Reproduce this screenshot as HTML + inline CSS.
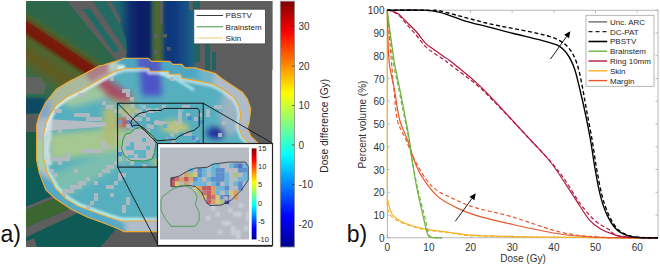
<!DOCTYPE html>
<html><head><meta charset="utf-8"><style>
html,body{margin:0;padding:0;background:#fff;width:660px;height:266px;overflow:hidden}
svg{display:block}
</style></head><body>
<svg width="660" height="266" viewBox="0 0 660 266">
<style>
.tk { font-family: "Liberation Sans", sans-serif; font-size: 10px; fill: #333333; }
.lg { font-family: "Liberation Sans", sans-serif; font-size: 8px; fill: #262626; }
.sm { font-family: "Liberation Sans", sans-serif; font-size: 7.5px; fill: #262626; }
.cb { font-family: "Liberation Sans", sans-serif; font-size: 10.2px; fill: #262626; }
.big { font-family: "Liberation Sans", sans-serif; font-size: 23px; fill: #111; }
</style>
<defs><clipPath id="imgclip"><rect x="26" y="1" width="246.5" height="246"/></clipPath><clipPath id="headclip"><polygon points="100.0,65.5 103.0,65.2 115.2,61.4 124.2,58.3 148.5,58.3 151.5,61.4 169.7,61.4 172.7,64.4 181.8,64.4 184.8,67.9 195.0,67.9 215.3,73.6 222.0,78.7 232.2,85.4 242.3,92.2 247.4,99.0 250.8,109.1 249.1,122.6 247.4,127.7 250.8,136.2 257.6,142.9 262.0,160.0 258.0,185.0 245.0,205.0 225.0,220.0 195.0,231.0 155.5,231.6 124.0,231.6 118.7,229.0 105.5,223.7 87.1,217.1 71.3,209.2 55.5,198.7 45.8,190.0 43.2,183.0 39.2,172.6 36.6,160.0 36.6,125.0 37.4,122.0 39.2,115.5 45.8,102.4 56.3,89.2 69.5,81.3 82.6,74.7"/></clipPath><clipPath id="innerclip"><polygon points="100.0,79.5 115.2,71.2 125.8,68.2 148.5,68.2 150.0,71.2 168.2,71.2 169.7,74.2 180.3,74.2 181.8,78.0 195.0,80.4 211.9,83.7 222.0,88.8 233.9,97.3 239.0,105.7 240.7,114.2 239.0,127.7 242.3,136.2 249.1,142.9 252.0,160.0 248.0,185.0 235.0,200.0 215.0,212.0 190.0,220.0 155.5,221.0 121.3,221.0 108.2,217.1 97.6,213.2 79.2,206.6 66.0,198.7 55.5,188.2 52.4,181.8 47.1,172.6 43.2,156.8 43.2,135.8 46.5,122.0 49.7,115.5 56.3,105.0 66.8,97.1 82.6,89.2"/></clipPath><filter id="bl05" x="-10%" y="-10%" width="120%" height="120%"><feGaussianBlur stdDeviation="0.6"/></filter><filter id="bl1" x="-30%" y="-30%" width="160%" height="160%"><feGaussianBlur stdDeviation="1"/></filter><filter id="bl2" x="-30%" y="-30%" width="160%" height="160%"><feGaussianBlur stdDeviation="2"/></filter><filter id="bl3" x="-30%" y="-30%" width="160%" height="160%"><feGaussianBlur stdDeviation="3"/></filter><filter id="bl4" x="-30%" y="-30%" width="160%" height="160%"><feGaussianBlur stdDeviation="4"/></filter><filter id="bl6" x="-30%" y="-30%" width="160%" height="160%"><feGaussianBlur stdDeviation="6"/></filter><linearGradient id="ulg" gradientUnits="userSpaceOnUse" x1="53.8" y1="-15.1" x2="-1.8" y2="68.1"><stop offset="0" stop-color="#2a6650"/><stop offset="0.36" stop-color="#2e6648"/><stop offset="0.40" stop-color="#456430"/><stop offset="0.445" stop-color="#5e4a1c"/><stop offset="0.46" stop-color="#7a1c0c"/><stop offset="0.54" stop-color="#76180a"/><stop offset="0.565" stop-color="#5e4418"/><stop offset="0.6" stop-color="#4e6630"/><stop offset="0.66" stop-color="#56602a"/><stop offset="0.72" stop-color="#625a1e"/><stop offset="0.78" stop-color="#58602a"/><stop offset="0.86" stop-color="#3e6840"/><stop offset="1" stop-color="#2c6a52"/></linearGradient><linearGradient id="topbeam" x1="113" y1="0" x2="195" y2="0" gradientUnits="userSpaceOnUse"><stop offset="0" stop-color="#226a6a"/><stop offset="0.085" stop-color="#1e6272"/><stop offset="0.21" stop-color="#0e3070"/><stop offset="0.33" stop-color="#0a1e66"/><stop offset="0.45" stop-color="#0c2466"/><stop offset="0.49" stop-color="#3a6444"/><stop offset="0.55" stop-color="#566a30"/><stop offset="0.6" stop-color="#3a6040"/><stop offset="0.63" stop-color="#12387a"/><stop offset="0.76" stop-color="#103a80"/><stop offset="0.94" stop-color="#1a5a88"/><stop offset="1" stop-color="#226a80"/></linearGradient><linearGradient id="jet" x1="0" y1="1" x2="0" y2="0"><stop offset="0" stop-color="#00008f"/><stop offset="0.125" stop-color="#0000ff"/><stop offset="0.375" stop-color="#00ffff"/><stop offset="0.625" stop-color="#ffff00"/><stop offset="0.875" stop-color="#ff0000"/><stop offset="1" stop-color="#800000"/></linearGradient></defs><g clip-path="url(#imgclip)"><rect x="26" y="1" width="246.5" height="246" fill="#5d5d5d"/><polygon points="20.0,-5.0 150.0,-5.0 150.0,62.0 124.0,58.0 100.0,65.0 82.6,74.7 69.5,81.3 56.3,89.2 45.8,102.4 39.2,115.5 37.0,133.0 20.0,133.0" fill="url(#ulg)"/><polygon points="20.0,77.0 40.0,77.0 46.0,85.0 44.0,94.0 20.0,94.0" fill="#60645e"/><polygon points="20.0,98.0 46.0,98.0 41.0,114.0 20.0,114.0" fill="#0e4860" filter="url(#bl1)"/><polygon points="108.0,-5.0 195.0,-5.0 195.0,67.0 128.0,67.0" fill="url(#topbeam)" filter="url(#bl1)"/><rect x="115" y="18" width="4" height="30" fill="#5a5a5a"/><rect x="154" y="34" width="4" height="3.5" fill="#5e5e5e"/><rect x="163" y="34" width="4" height="3.5" fill="#5e5e5e"/><rect x="154" y="50" width="4" height="3.5" fill="#5e5e5e"/><rect x="167" y="47" width="3.5" height="3.5" fill="#5e5e5e"/><rect x="160" y="-2" width="2.5" height="26" fill="#5e5e5e"/><rect x="189" y="-2" width="5" height="12" fill="#5e5e5e"/><rect x="193" y="-2" width="7" height="64" fill="#1f6462"/><rect x="200" y="-2" width="80" height="72" fill="#5e5e5e"/><rect x="205" y="44" width="5" height="26" fill="#1f6462"/><rect x="212" y="52" width="4" height="18" fill="#1f6462"/><polygon points="90.8,-2.0 106.0,-2.0 120.0,22.0 126.0,40.0 127.0,52.0" fill="#246a62"/><polygon points="64.4,-2.0 90.8,-2.0 127.0,52.0 125.0,60.0 117.0,62.0" fill="#5e5e5e"/><polygon points="83.0,9.0 90.0,9.0 119.0,50.0 114.0,53.0" fill="#1e6a64"/><polygon points="105.0,-2.0 109.0,-2.0 121.0,20.0 119.0,24.0" fill="#5e5e5e"/><polygon points="20.0,125.0 37.0,125.0 36.6,160.0 39.2,172.6 43.2,183.0 45.8,190.0 55.5,198.7 71.3,209.2 87.1,217.1 105.5,223.7 118.7,229.0 124.0,231.6 124.0,250.0 20.0,250.0" fill="#0e5a55"/><polygon points="20.0,114.0 40.0,114.0 37.0,132.0 20.0,132.0" fill="#585c5a"/><polygon points="20.0,132.0 37.0,132.0 37.0,168.0 20.0,168.0" fill="#1c5a42"/><polygon points="20.0,209.0 57.0,194.0 59.0,197.0 20.0,212.5" fill="#5e5e5e"/><polygon points="20.0,212.5 59.0,197.0 73.0,207.5 20.0,230.0" fill="#3c6630"/><polygon points="20.0,230.0 73.0,207.5 78.0,213.0 20.0,240.0" fill="#5e5e5e"/><polygon points="20.0,244.0 34.0,238.0 38.0,250.0 20.0,250.0" fill="#5e5e5e"/><polygon points="98.0,250.0 116.0,229.0 124.0,231.6 165.0,231.6 165.0,250.0" fill="#5a5a5a"/><polygon points="100.0,65.5 103.0,65.2 115.2,61.4 124.2,58.3 148.5,58.3 151.5,61.4 169.7,61.4 172.7,64.4 181.8,64.4 184.8,67.9 195.0,67.9 215.3,73.6 222.0,78.7 232.2,85.4 242.3,92.2 247.4,99.0 250.8,109.1 249.1,122.6 247.4,127.7 250.8,136.2 257.6,142.9 262.0,160.0 258.0,185.0 245.0,205.0 225.0,220.0 195.0,231.0 155.5,231.6 124.0,231.6 118.7,229.0 105.5,223.7 87.1,217.1 71.3,209.2 55.5,198.7 45.8,190.0 43.2,183.0 39.2,172.6 36.6,160.0 36.6,125.0 37.4,122.0 39.2,115.5 45.8,102.4 56.3,89.2 69.5,81.3 82.6,74.7" fill="#b0bcc8"/><g clip-path="url(#headclip)"><polygon points="60.0,60.0 124.0,50.0 126.0,72.0 82.0,89.0 50.0,118.0 40.0,118.0" fill="#a8b890" opacity="0.8" filter="url(#bl3)"/><polygon points="80.0,62.0 110.0,58.0 110.0,72.0 90.0,82.0" fill="#b07888" opacity="0.9" filter="url(#bl2)"/><polygon points="108.0,56.0 120.0,56.0 120.0,70.0 108.0,72.0" fill="#c0d8c8" opacity="0.8" filter="url(#bl2)"/><polygon points="30.0,100.0 50.0,100.0 50.0,118.0 30.0,118.0" fill="#7aa0d0" opacity="0.8" filter="url(#bl2)"/><polygon points="30.0,140.0 50.0,140.0 50.0,170.0 30.0,170.0" fill="#a6d0a8" opacity="0.8" filter="url(#bl2)"/><polygon points="30.0,168.0 80.0,198.0 125.0,224.0 125.0,240.0 30.0,240.0" fill="#4aa8c8" opacity="0.9" filter="url(#bl2)"/><polygon points="118.0,50.0 200.0,50.0 200.0,80.0 118.0,80.0" fill="#48a6c2" opacity="0.95" filter="url(#bl2)"/><polygon points="137.0,55.0 160.0,55.0 162.0,80.0 139.0,80.0" fill="#5258c4" opacity="0.9" filter="url(#bl2)"/><rect x="117" y="65" width="8" height="5" fill="#d8ecec" filter="url(#bl1)"/><rect x="137" y="68" width="8" height="4" fill="#c8e4f0" filter="url(#bl1)"/><polygon points="195.0,60.0 215.0,70.0 212.0,90.0 195.0,85.0" fill="#58b0c8" opacity="0.7" filter="url(#bl2)"/></g><polygon points="100.0,79.5 115.2,71.2 125.8,68.2 148.5,68.2 150.0,71.2 168.2,71.2 169.7,74.2 180.3,74.2 181.8,78.0 195.0,80.4 211.9,83.7 222.0,88.8 233.9,97.3 239.0,105.7 240.7,114.2 239.0,127.7 242.3,136.2 249.1,142.9 252.0,160.0 248.0,185.0 235.0,200.0 215.0,212.0 190.0,220.0 155.5,221.0 121.3,221.0 108.2,217.1 97.6,213.2 79.2,206.6 66.0,198.7 55.5,188.2 52.4,181.8 47.1,172.6 43.2,156.8 43.2,135.8 46.5,122.0 49.7,115.5 56.3,105.0 66.8,97.1 82.6,89.2" fill="#56afbf"/><g clip-path="url(#innerclip)"><g filter="url(#bl3)"><polygon points="48.0,134.0 110.0,128.0 150.0,133.0 120.0,150.0 50.0,162.0" fill="#a6c890"/><polygon points="58.0,98.0 100.0,82.0 118.0,95.0 70.0,108.0" fill="#9ec8a0"/><polygon points="50.0,175.0 110.0,150.0 150.0,150.0 60.0,200.0" fill="#8cc4a8" opacity="0.7"/><polygon points="96.0,84.0 108.0,82.0 136.0,98.0 128.0,106.0 112.0,101.0" fill="#d8b060" opacity="0.7"/><polygon points="90.0,78.0 104.0,76.0 134.0,97.0 126.0,103.0 108.0,97.0" fill="#a84e64"/><polygon points="139.0,66.0 160.0,66.0 162.0,96.0 142.0,96.0" fill="#4e52c8"/><ellipse cx="216" cy="133" rx="10" ry="6" fill="#1a2c98"/><ellipse cx="125" cy="123" rx="7" ry="4" fill="#d06050"/><ellipse cx="172" cy="126" rx="12" ry="6" fill="#b0c480"/><ellipse cx="110" cy="125" rx="8" ry="22" fill="#b0bc78"/><ellipse cx="230" cy="112" rx="10" ry="24" fill="#9cb4c4"/></g><polyline points="160.0,73.0 178.0,80.0 194.0,90.0" fill="none" stroke="#c0f0f0" stroke-width="3" opacity="0.8" filter="url(#bl1)"/><polygon points="46.0,119.0 106.0,122.5 106.0,126.5 46.0,131.0" fill="#b6bcc4"/><polyline points="57.0,102.0 51.0,110.0 49.5,120.0 49.0,136.0 47.0,150.0 50.0,165.0" fill="none" stroke="#d4e2e4" stroke-width="5" opacity="0.85" filter="url(#bl1)"/><polygon points="100.0,79.5 115.2,71.2 125.8,68.2 148.5,68.2 150.0,71.2 168.2,71.2 169.7,74.2 180.3,74.2 181.8,78.0 195.0,80.4 211.9,83.7 222.0,88.8 233.9,97.3 239.0,105.7 240.7,114.2 239.0,127.7 242.3,136.2 249.1,142.9 252.0,160.0 248.0,185.0 235.0,200.0 215.0,212.0 190.0,220.0 155.5,221.0 121.3,221.0 108.2,217.1 97.6,213.2 79.2,206.6 66.0,198.7 55.5,188.2 52.4,181.8 47.1,172.6 43.2,156.8 43.2,135.8 46.5,122.0 49.7,115.5 56.3,105.0 66.8,97.1 82.6,89.2" fill="none" stroke="#d8eaea" stroke-width="7" opacity="0.7" filter="url(#bl1)"/><polyline points="47.1,172.6 52.4,181.8 55.5,188.2 66.0,198.7 79.2,206.6 97.6,213.2 108.2,217.1 121.3,221.0 140.0,221.0" fill="none" stroke="#a8ecec" stroke-width="5" opacity="0.9" filter="url(#bl1)"/><polyline points="43.2,135.8 46.5,122.0 49.7,115.5 56.3,105.0 66.8,97.1 82.6,89.2 100.0,79.5 115.2,71.2" fill="none" stroke="#dcecea" stroke-width="5" opacity="0.8" filter="url(#bl1)"/><g fill="#b4bac2" opacity="0.92"><rect x="122.0" y="173.0" width="4.0" height="4.0"/><rect x="118.0" y="173.0" width="4.0" height="4.0"/><rect x="118.0" y="177.0" width="4.0" height="4.0"/><rect x="114.0" y="181.0" width="4.0" height="4.0"/><rect x="110.0" y="185.0" width="4.0" height="4.0"/><rect x="106.0" y="185.0" width="4.0" height="4.0"/><rect x="94.0" y="197.0" width="4.0" height="4.0"/><rect x="90.0" y="201.0" width="4.0" height="4.0"/><rect x="86.0" y="205.0" width="4.0" height="4.0"/><rect x="114.0" y="161.0" width="4.0" height="4.0"/><rect x="110.0" y="165.0" width="4.0" height="4.0"/><rect x="106.0" y="165.0" width="4.0" height="4.0"/><rect x="106.0" y="169.0" width="4.0" height="4.0"/><rect x="102.0" y="169.0" width="4.0" height="4.0"/><rect x="86.0" y="177.0" width="4.0" height="4.0"/><rect x="82.0" y="181.0" width="4.0" height="4.0"/><rect x="78.0" y="181.0" width="4.0" height="4.0"/><rect x="78.0" y="185.0" width="4.0" height="4.0"/><rect x="74.0" y="185.0" width="4.0" height="4.0"/><rect x="70.0" y="185.0" width="4.0" height="4.0"/><rect x="70.0" y="189.0" width="4.0" height="4.0"/><rect x="66.0" y="189.0" width="4.0" height="4.0"/><rect x="62.0" y="189.0" width="4.0" height="4.0"/><rect x="62.0" y="193.0" width="4.0" height="4.0"/><rect x="106.0" y="145.0" width="4.0" height="4.0"/><rect x="102.0" y="145.0" width="4.0" height="4.0"/><rect x="98.0" y="149.0" width="4.0" height="4.0"/><rect x="94.0" y="149.0" width="4.0" height="4.0"/><rect x="90.0" y="149.0" width="4.0" height="4.0"/><rect x="86.0" y="149.0" width="4.0" height="4.0"/><rect x="82.0" y="149.0" width="4.0" height="4.0"/><rect x="66.0" y="153.0" width="4.0" height="4.0"/><rect x="66.0" y="157.0" width="4.0" height="4.0"/><rect x="62.0" y="157.0" width="4.0" height="4.0"/><rect x="58.0" y="157.0" width="4.0" height="4.0"/><rect x="54.0" y="157.0" width="4.0" height="4.0"/><rect x="50.0" y="157.0" width="4.0" height="4.0"/><rect x="98.0" y="117.0" width="4.0" height="4.0"/><rect x="94.0" y="117.0" width="4.0" height="4.0"/><rect x="90.0" y="117.0" width="4.0" height="4.0"/><rect x="86.0" y="117.0" width="4.0" height="4.0"/><rect x="86.0" y="113.0" width="4.0" height="4.0"/><rect x="82.0" y="113.0" width="4.0" height="4.0"/><rect x="78.0" y="113.0" width="4.0" height="4.0"/><rect x="74.0" y="113.0" width="4.0" height="4.0"/><rect x="58.0" y="109.0" width="4.0" height="4.0"/><rect x="54.0" y="109.0" width="4.0" height="4.0"/><rect x="114.0" y="109.0" width="4.0" height="4.0"/><rect x="110.0" y="105.0" width="4.0" height="4.0"/><rect x="106.0" y="105.0" width="4.0" height="4.0"/><rect x="102.0" y="101.0" width="4.0" height="4.0"/><rect x="82.0" y="93.0" width="4.0" height="4.0"/><rect x="78.0" y="93.0" width="4.0" height="4.0"/><rect x="126.0" y="197.0" width="4.0" height="4.0"/><rect x="126.0" y="201.0" width="4.0" height="4.0"/><rect x="122.0" y="205.0" width="4.0" height="4.0"/><rect x="122.0" y="209.0" width="4.0" height="4.0"/><rect x="130.0" y="97.0" width="4.0" height="4.0"/><rect x="126.0" y="93.0" width="4.0" height="4.0"/><rect x="122.0" y="89.0" width="4.0" height="4.0"/><rect x="110.0" y="77.0" width="4.0" height="4.0"/><rect x="218.0" y="133.0" width="4.0" height="4.0"/><rect x="58.0" y="161.0" width="4.0" height="4.0"/><rect x="94.0" y="193.0" width="4.0" height="4.0"/><rect x="126.0" y="89.0" width="4.0" height="4.0"/><rect x="206.0" y="109.0" width="4.0" height="4.0"/><rect x="218.0" y="105.0" width="4.0" height="4.0"/><rect x="170.0" y="77.0" width="4.0" height="4.0"/><rect x="54.0" y="173.0" width="4.0" height="4.0"/><rect x="206.0" y="113.0" width="4.0" height="4.0"/><rect x="94.0" y="181.0" width="4.0" height="4.0"/><rect x="214.0" y="105.0" width="4.0" height="4.0"/><rect x="98.0" y="173.0" width="4.0" height="4.0"/><rect x="222.0" y="121.0" width="4.0" height="4.0"/><rect x="74.0" y="169.0" width="4.0" height="4.0"/><rect x="50.0" y="169.0" width="4.0" height="4.0"/><rect x="102.0" y="141.0" width="4.0" height="4.0"/><rect x="110.0" y="193.0" width="4.0" height="4.0"/><rect x="58.0" y="129.0" width="4.0" height="4.0"/></g><g fill="#b4bac2" opacity="0.9"><rect x="142.0" y="105.0" width="4.0" height="4.0"/><rect x="162.0" y="105.0" width="4.0" height="4.0"/><rect x="182.0" y="105.0" width="4.0" height="4.0"/><rect x="186.0" y="105.0" width="4.0" height="4.0"/><rect x="118.0" y="109.0" width="4.0" height="4.0"/><rect x="126.0" y="109.0" width="4.0" height="4.0"/><rect x="134.0" y="109.0" width="4.0" height="4.0"/><rect x="138.0" y="109.0" width="4.0" height="4.0"/><rect x="146.0" y="109.0" width="4.0" height="4.0"/><rect x="150.0" y="109.0" width="4.0" height="4.0"/><rect x="178.0" y="109.0" width="4.0" height="4.0"/><rect x="122.0" y="113.0" width="4.0" height="4.0"/><rect x="126.0" y="113.0" width="4.0" height="4.0"/><rect x="130.0" y="113.0" width="4.0" height="4.0"/><rect x="142.0" y="113.0" width="4.0" height="4.0"/><rect x="178.0" y="113.0" width="4.0" height="4.0"/><rect x="186.0" y="113.0" width="4.0" height="4.0"/><rect x="198.0" y="113.0" width="4.0" height="4.0"/><rect x="130.0" y="117.0" width="4.0" height="4.0"/><rect x="134.0" y="117.0" width="4.0" height="4.0"/><rect x="138.0" y="117.0" width="4.0" height="4.0"/><rect x="146.0" y="117.0" width="4.0" height="4.0"/><rect x="178.0" y="117.0" width="4.0" height="4.0"/><rect x="194.0" y="117.0" width="4.0" height="4.0"/><rect x="118.0" y="121.0" width="4.0" height="4.0"/><rect x="154.0" y="121.0" width="4.0" height="4.0"/><rect x="158.0" y="121.0" width="4.0" height="4.0"/><rect x="162.0" y="121.0" width="4.0" height="4.0"/><rect x="174.0" y="121.0" width="4.0" height="4.0"/><rect x="178.0" y="121.0" width="4.0" height="4.0"/><rect x="130.0" y="125.0" width="4.0" height="4.0"/><rect x="138.0" y="125.0" width="4.0" height="4.0"/><rect x="150.0" y="125.0" width="4.0" height="4.0"/><rect x="170.0" y="125.0" width="4.0" height="4.0"/><rect x="178.0" y="125.0" width="4.0" height="4.0"/><rect x="146.0" y="129.0" width="4.0" height="4.0"/><rect x="174.0" y="129.0" width="4.0" height="4.0"/><rect x="170.0" y="133.0" width="4.0" height="4.0"/><rect x="166.0" y="137.0" width="4.0" height="4.0"/><rect x="194.0" y="137.0" width="4.0" height="4.0"/><rect x="146.0" y="141.0" width="4.0" height="4.0"/><rect x="150.0" y="141.0" width="4.0" height="4.0"/><rect x="126.0" y="145.0" width="4.0" height="4.0"/><rect x="138.0" y="145.0" width="4.0" height="4.0"/><rect x="150.0" y="145.0" width="4.0" height="4.0"/><rect x="118.0" y="149.0" width="4.0" height="4.0"/><rect x="126.0" y="149.0" width="4.0" height="4.0"/><rect x="130.0" y="149.0" width="4.0" height="4.0"/><rect x="134.0" y="149.0" width="4.0" height="4.0"/><rect x="126.0" y="153.0" width="4.0" height="4.0"/><rect x="142.0" y="153.0" width="4.0" height="4.0"/><rect x="118.0" y="157.0" width="4.0" height="4.0"/><rect x="126.0" y="157.0" width="4.0" height="4.0"/><rect x="130.0" y="161.0" width="4.0" height="4.0"/></g></g></g><g clip-path="url(#imgclip)"><polygon points="100.0,65.5 103.0,65.2 115.2,61.4 124.2,58.3 148.5,58.3 151.5,61.4 169.7,61.4 172.7,64.4 181.8,64.4 184.8,67.9 195.0,67.9 215.3,73.6 222.0,78.7 232.2,85.4 242.3,92.2 247.4,99.0 250.8,109.1 249.1,122.6 247.4,127.7 250.8,136.2 257.6,142.9 262.0,160.0 258.0,185.0 245.0,205.0 225.0,220.0 195.0,231.0 155.5,231.6 124.0,231.6 118.7,229.0 105.5,223.7 87.1,217.1 71.3,209.2 55.5,198.7 45.8,190.0 43.2,183.0 39.2,172.6 36.6,160.0 36.6,125.0 37.4,122.0 39.2,115.5 45.8,102.4 56.3,89.2 69.5,81.3 82.6,74.7" fill="none" stroke="#eeaa30" stroke-width="1.1"/><polygon points="100.0,79.5 115.2,71.2 125.8,68.2 148.5,68.2 150.0,71.2 168.2,71.2 169.7,74.2 180.3,74.2 181.8,78.0 195.0,80.4 211.9,83.7 222.0,88.8 233.9,97.3 239.0,105.7 240.7,114.2 239.0,127.7 242.3,136.2 249.1,142.9 252.0,160.0 248.0,185.0 235.0,200.0 215.0,212.0 190.0,220.0 155.5,221.0 121.3,221.0 108.2,217.1 97.6,213.2 79.2,206.6 66.0,198.7 55.5,188.2 52.4,181.8 47.1,172.6 43.2,156.8 43.2,135.8 46.5,122.0 49.7,115.5 56.3,105.0 66.8,97.1 82.6,89.2" fill="none" stroke="#eeaa30" stroke-width="1.1"/></g><polygon points="122.9,139.5 125.5,134.2 130.8,132.9 134.7,128.9 140.0,127.6 146.6,131.6 153.2,136.8 155.8,143.4 154.5,152.6 151.8,159.2 143.9,161.0 130.8,160.5 124.2,155.3 121.6,148.7" fill="#b4bac2"/><rect x="126" y="146" width="8" height="4" fill="#5cb4c4"/><rect x="134" y="150" width="12" height="4" fill="#5cb4c4"/><rect x="130" y="142" width="4" height="4" fill="#5cb4c4"/><rect x="142" y="138" width="4" height="4" fill="#5cb4c4"/><rect x="138" y="154" width="8" height="4" fill="#5cb4c4"/><rect x="146" y="146" width="4" height="4" fill="#5cb4c4"/><rect x="128" y="155" width="6" height="3" fill="#5cb4c4"/><g filter="url(#bl2)" opacity="0.8"><ellipse cx="128" cy="110" rx="10" ry="6" fill="#b8c07a"/><ellipse cx="178" cy="128" rx="12" ry="5" fill="#c0c47a"/><ellipse cx="160" cy="162" rx="10" ry="4" fill="#b8c07a"/><ellipse cx="124" cy="122" rx="6" ry="4" fill="#d05a48"/></g><rect x="171.3" y="140.0" width="4.1" height="4" fill="#b4bac2" opacity="0.85"/><rect x="142.6" y="164.0" width="4.1" height="4" fill="#b4bac2" opacity="0.85"/><rect x="118.0" y="104.0" width="4.1" height="4" fill="#6cc0d0" opacity="0.85"/><rect x="126.2" y="120.0" width="4.1" height="4" fill="#4a8ad0" opacity="0.85"/><rect x="146.7" y="108.0" width="4.1" height="4" fill="#b4bac2" opacity="0.85"/><rect x="118.0" y="120.0" width="4.1" height="4" fill="#5aa8d8" opacity="0.85"/><rect x="130.3" y="104.0" width="4.1" height="4" fill="#b4bac2" opacity="0.85"/><rect x="134.4" y="124.0" width="4.1" height="4" fill="#5aa8d8" opacity="0.85"/><rect x="179.5" y="132.0" width="4.1" height="4" fill="#5aa8d8" opacity="0.85"/><rect x="142.6" y="128.0" width="4.1" height="4" fill="#b4bac2" opacity="0.85"/><rect x="126.2" y="116.0" width="4.1" height="4" fill="#b4bac2" opacity="0.85"/><rect x="167.2" y="136.0" width="4.1" height="4" fill="#5aa8d8" opacity="0.85"/><rect x="126.2" y="124.0" width="4.1" height="4" fill="#b4bac2" opacity="0.85"/><rect x="118.0" y="164.0" width="4.1" height="4" fill="#5aa8d8" opacity="0.85"/><rect x="187.7" y="132.0" width="4.1" height="4" fill="#b4bac2" opacity="0.85"/><rect x="187.7" y="116.0" width="4.1" height="4" fill="#4a8ad0" opacity="0.85"/><rect x="195.9" y="140.0" width="4.1" height="4" fill="#4a8ad0" opacity="0.85"/><rect x="130.3" y="124.0" width="4.1" height="4" fill="#5aa8d8" opacity="0.85"/><rect x="163.1" y="124.0" width="4.1" height="4" fill="#5aa8d8" opacity="0.85"/><rect x="183.6" y="132.0" width="4.1" height="4" fill="#b4bac2" opacity="0.85"/><rect x="138.5" y="104.0" width="4.1" height="4" fill="#6cc0d0" opacity="0.85"/><rect x="138.5" y="112.0" width="4.1" height="4" fill="#b4bac2" opacity="0.85"/><rect x="154.9" y="108.0" width="4.1" height="4" fill="#b4bac2" opacity="0.85"/><rect x="146.7" y="124.0" width="4.1" height="4" fill="#b4bac2" opacity="0.85"/><rect x="200.0" y="120.0" width="4.1" height="4" fill="#4a8ad0" opacity="0.85"/><rect x="179.5" y="108.0" width="4.1" height="4" fill="#6cc0d0" opacity="0.85"/><rect x="134.4" y="164.0" width="4.1" height="4" fill="#5aa8d8" opacity="0.85"/><rect x="154.9" y="120.0" width="4.1" height="4" fill="#b4bac2" opacity="0.85"/><rect x="191.8" y="136.0" width="4.1" height="4" fill="#4a8ad0" opacity="0.85"/><rect x="118.0" y="152.0" width="4.1" height="4" fill="#4a8ad0" opacity="0.85"/><rect x="118.0" y="136.0" width="4.1" height="4" fill="#b4bac2" opacity="0.85"/><polygon points="132.1,119.7 136.0,115.8 140.0,113.2 146.6,111.8 149.2,110.5 161.0,110.5 163.7,108.4 197.9,108.4 199.2,110.5 199.2,126.3 194.0,130.3 186.0,132.9 178.2,136.8 175.5,139.5 157.1,140.8 153.2,136.8 146.6,130.3 141.3,126.3 136.0,125.0 132.1,126.3 130.8,122.4" fill="none" stroke="#1a1a1a" stroke-width="1"/><polygon points="122.9,139.5 125.5,134.2 130.8,132.9 134.7,128.9 140.0,127.6 146.6,131.6 153.2,136.8 155.8,143.4 154.5,152.6 151.8,159.2 143.9,161.0 130.8,160.5 124.2,155.3 121.6,148.7" fill="none" stroke="#2a9a3a" stroke-width="1"/><rect x="117.6" y="103.2" width="85.6" height="63.9" fill="none" stroke="#111" stroke-width="1"/><line x1="117.6" y1="103.2" x2="158" y2="144" stroke="#111" stroke-width="0.9"/><line x1="203.2" y1="103.2" x2="272" y2="143" stroke="#111" stroke-width="0.9"/><line x1="117.6" y1="167.1" x2="158" y2="245" stroke="#111" stroke-width="0.9"/><rect x="157.5" y="143.5" width="115" height="102" fill="#ffffff" stroke="#222" stroke-width="1.2"/><rect x="160" y="147.5" width="89" height="92" fill="#b6bac2"/><g opacity="0.82" filter="url(#bl05)"><rect x="211.1" y="163.5" width="4.55" height="4.55" fill="#5cb4da"/><rect x="215.6" y="163.5" width="4.55" height="4.55" fill="#5cb4da"/><rect x="229.1" y="163.5" width="4.55" height="4.55" fill="#5cb4da"/><rect x="233.6" y="163.5" width="4.55" height="4.55" fill="#4a86d2"/><rect x="238.1" y="163.5" width="4.55" height="4.55" fill="#3a5ec8"/><rect x="242.6" y="163.5" width="4.55" height="4.55" fill="#5cb4da"/><rect x="188.6" y="168.0" width="4.55" height="4.55" fill="#5cb4da"/><rect x="197.6" y="168.0" width="4.55" height="4.55" fill="#4a86d2"/><rect x="202.1" y="168.0" width="4.55" height="4.55" fill="#5cb4da"/><rect x="206.6" y="168.0" width="4.55" height="4.55" fill="#84c8e2"/><rect x="211.1" y="168.0" width="4.55" height="4.55" fill="#5cb4da"/><rect x="215.6" y="168.0" width="4.55" height="4.55" fill="#4a86d2"/><rect x="220.1" y="168.0" width="4.55" height="4.55" fill="#4a86d2"/><rect x="238.1" y="168.0" width="4.55" height="4.55" fill="#4a86d2"/><rect x="242.6" y="168.0" width="4.55" height="4.55" fill="#4a86d2"/><rect x="184.1" y="172.5" width="4.55" height="4.55" fill="#e09a52"/><rect x="188.6" y="172.5" width="4.55" height="4.55" fill="#a8c46a"/><rect x="193.1" y="172.5" width="4.55" height="4.55" fill="#dcc866"/><rect x="197.6" y="172.5" width="4.55" height="4.55" fill="#4a86d2"/><rect x="202.1" y="172.5" width="4.55" height="4.55" fill="#5cb4da"/><rect x="211.1" y="172.5" width="4.55" height="4.55" fill="#5cb4da"/><rect x="215.6" y="172.5" width="4.55" height="4.55" fill="#4a86d2"/><rect x="220.1" y="172.5" width="4.55" height="4.55" fill="#4a86d2"/><rect x="224.6" y="172.5" width="4.55" height="4.55" fill="#5cb4da"/><rect x="233.6" y="172.5" width="4.55" height="4.55" fill="#a8c46a"/><rect x="242.6" y="172.5" width="4.55" height="4.55" fill="#5cb4da"/><rect x="170.6" y="177.0" width="4.55" height="4.55" fill="#a23c52"/><rect x="175.1" y="177.0" width="4.55" height="4.55" fill="#d46262"/><rect x="179.6" y="177.0" width="4.55" height="4.55" fill="#e09a52"/><rect x="184.1" y="177.0" width="4.55" height="4.55" fill="#c84a4a"/><rect x="188.6" y="177.0" width="4.55" height="4.55" fill="#e09a52"/><rect x="193.1" y="177.0" width="4.55" height="4.55" fill="#4a86d2"/><rect x="197.6" y="177.0" width="4.55" height="4.55" fill="#5cb4da"/><rect x="206.6" y="177.0" width="4.55" height="4.55" fill="#5cb4da"/><rect x="211.1" y="177.0" width="4.55" height="4.55" fill="#4a86d2"/><rect x="215.6" y="177.0" width="4.55" height="4.55" fill="#4a86d2"/><rect x="220.1" y="177.0" width="4.55" height="4.55" fill="#4a86d2"/><rect x="224.6" y="177.0" width="4.55" height="4.55" fill="#5cb4da"/><rect x="238.1" y="177.0" width="4.55" height="4.55" fill="#5cb4da"/><rect x="242.6" y="177.0" width="4.55" height="4.55" fill="#5cb4da"/><rect x="170.6" y="181.5" width="4.55" height="4.55" fill="#c84a4a"/><rect x="175.1" y="181.5" width="4.55" height="4.55" fill="#dcc866"/><rect x="184.1" y="181.5" width="4.55" height="4.55" fill="#e09a52"/><rect x="193.1" y="181.5" width="4.55" height="4.55" fill="#5cb4da"/><rect x="197.6" y="181.5" width="4.55" height="4.55" fill="#5cb4da"/><rect x="202.1" y="181.5" width="4.55" height="4.55" fill="#5cb4da"/><rect x="211.1" y="181.5" width="4.55" height="4.55" fill="#5cb4da"/><rect x="215.6" y="181.5" width="4.55" height="4.55" fill="#4a86d2"/><rect x="224.6" y="181.5" width="4.55" height="4.55" fill="#5cb4da"/><rect x="233.6" y="181.5" width="4.55" height="4.55" fill="#5cb4da"/><rect x="238.1" y="181.5" width="4.55" height="4.55" fill="#4a86d2"/><rect x="193.1" y="186.0" width="4.55" height="4.55" fill="#dcc866"/><rect x="197.6" y="186.0" width="4.55" height="4.55" fill="#e09a52"/><rect x="202.1" y="186.0" width="4.55" height="4.55" fill="#c84a4a"/><rect x="206.6" y="186.0" width="4.55" height="4.55" fill="#c84a4a"/><rect x="211.1" y="186.0" width="4.55" height="4.55" fill="#e09a52"/><rect x="215.6" y="186.0" width="4.55" height="4.55" fill="#5cb4da"/><rect x="220.1" y="186.0" width="4.55" height="4.55" fill="#5cb4da"/><rect x="224.6" y="186.0" width="4.55" height="4.55" fill="#4a86d2"/><rect x="238.1" y="186.0" width="4.55" height="4.55" fill="#4a86d2"/><rect x="197.6" y="190.5" width="4.55" height="4.55" fill="#a8c46a"/><rect x="202.1" y="190.5" width="4.55" height="4.55" fill="#d46262"/><rect x="206.6" y="190.5" width="4.55" height="4.55" fill="#c84a4a"/><rect x="211.1" y="190.5" width="4.55" height="4.55" fill="#e09a52"/><rect x="215.6" y="190.5" width="4.55" height="4.55" fill="#5cb4da"/><rect x="224.6" y="190.5" width="4.55" height="4.55" fill="#5cb4da"/><rect x="229.1" y="190.5" width="4.55" height="4.55" fill="#dcc866"/><rect x="233.6" y="190.5" width="4.55" height="4.55" fill="#e09a52"/><rect x="202.1" y="195.0" width="4.55" height="4.55" fill="#dcc866"/><rect x="206.6" y="195.0" width="4.55" height="4.55" fill="#c84a4a"/><rect x="211.1" y="195.0" width="4.55" height="4.55" fill="#d46262"/><rect x="215.6" y="195.0" width="4.55" height="4.55" fill="#dcc866"/><rect x="220.1" y="195.0" width="4.55" height="4.55" fill="#4a86d2"/><rect x="224.6" y="195.0" width="4.55" height="4.55" fill="#2a2aa0"/><rect x="233.6" y="195.0" width="4.55" height="4.55" fill="#e09a52"/><rect x="206.6" y="199.5" width="4.55" height="4.55" fill="#c84a4a"/><rect x="211.1" y="199.5" width="4.55" height="4.55" fill="#e09a52"/><rect x="215.6" y="199.5" width="4.55" height="4.55" fill="#dcc866"/><rect x="220.1" y="199.5" width="4.55" height="4.55" fill="#a8c46a"/><rect x="224.6" y="199.5" width="4.55" height="4.55" fill="#2a2aa0"/></g><rect x="211" y="206" width="4.5" height="4.5" fill="#cad2d6" filter="url(#bl1)"/><rect x="215.5" y="212" width="4.5" height="4.5" fill="#cad2d6" filter="url(#bl1)"/><rect x="206" y="216" width="4.5" height="4.5" fill="#cad2d6" filter="url(#bl1)"/><rect x="222" y="221" width="9" height="4.5" fill="#cad2d6" filter="url(#bl1)"/><rect x="231" y="226" width="4.5" height="9" fill="#cad2d6" filter="url(#bl1)"/><rect x="236" y="230" width="4.5" height="9" fill="#cad2d6" filter="url(#bl1)"/><rect x="244" y="226" width="4.5" height="4.5" fill="#cad2d6" filter="url(#bl1)"/><rect x="239" y="203" width="4.5" height="4.5" fill="#cad2d6" filter="url(#bl1)"/><rect x="228" y="208" width="4.5" height="4.5" fill="#cad2d6" filter="url(#bl1)"/><rect x="233" y="212" width="9" height="4.5" fill="#cad2d6" filter="url(#bl1)"/><rect x="218" y="230" width="4.5" height="4.5" fill="#cad2d6" filter="url(#bl1)"/><rect x="246" y="212" width="3" height="9" fill="#cad2d6" filter="url(#bl1)"/><rect x="224" y="196" width="4.5" height="4.5" fill="#cad2d6" filter="url(#bl1)"/><polyline points="171.1,178.2 179.1,176.1 187.1,171.3 195.2,168.1 207.2,167.3 213.2,164.1 229.3,162.1 245.4,162.1 248.2,166.1 248.2,180.2 241.3,190.2 231.3,200.2 221.3,205.1 209.5,205.5 205.5,201.0 201.5,192.0 195.5,186.5 189.1,185.5 183.1,186.0 177.1,187.0 171.1,186.5 171.1,178.2" fill="none" stroke="#1a2a3a" stroke-width="0.8"/><polyline points="161.0,200.2 163.0,196.2 171.0,190.2 179.1,186.0 185.1,185.2 191.1,188.4 195.2,192.4 197.2,197.2 195.2,204.3 199.2,212.3 199.2,220.3 195.2,226.3 171.1,226.3 165.0,218.3 161.0,210.3 161.0,200.2" fill="none" stroke="#3a9a4a" stroke-width="0.8"/><rect x="251.7" y="148.4" width="4.8" height="91" fill="url(#jet)"/><text x="258" y="151.0" class="sm">15</text><text x="258" y="169.2" class="sm">10</text><text x="258" y="187.4" class="sm">5</text><text x="258" y="205.6" class="sm">0</text><text x="258" y="223.8" class="sm">-5</text><text x="258" y="242.0" class="sm">-10</text><rect x="280.3" y="1.2" width="14.2" height="245.8" fill="url(#jet)" stroke="#8a8a8a" stroke-width="0.8"/><line x1="292" y1="26.5" x2="294.5" y2="26.5" stroke="#333" stroke-width="0.7"/><text x="298.5" y="30.1" class="tk">30</text><line x1="292" y1="66.0" x2="294.5" y2="66.0" stroke="#333" stroke-width="0.7"/><text x="298.5" y="69.6" class="tk">20</text><line x1="292" y1="105.5" x2="294.5" y2="105.5" stroke="#333" stroke-width="0.7"/><text x="298.5" y="109.1" class="tk">10</text><line x1="292" y1="145.0" x2="294.5" y2="145.0" stroke="#333" stroke-width="0.7"/><text x="298.5" y="148.6" class="tk">0</text><line x1="292" y1="184.5" x2="294.5" y2="184.5" stroke="#333" stroke-width="0.7"/><text x="298.5" y="188.1" class="tk">-10</text><line x1="292" y1="224.0" x2="294.5" y2="224.0" stroke="#333" stroke-width="0.7"/><text x="298.5" y="227.6" class="tk">-20</text><text transform="translate(327.8,125.8) rotate(-90)" text-anchor="middle" class="cb">Dose difference (Gy)</text><rect x="193.8" y="9.2" width="71.6" height="34.7" fill="#fff" stroke="#444" stroke-width="0.8"/><line x1="196.5" y1="15.5" x2="223" y2="15.5" stroke="#3a3a3a" stroke-width="1"/><text x="225.6" y="18.4" class="lg">PBSTV</text><line x1="196.5" y1="26.8" x2="223" y2="26.8" stroke="#3a9a4a" stroke-width="1"/><text x="225.6" y="29.6" class="lg">Brainstem</text><line x1="196.5" y1="38.0" x2="223" y2="38.0" stroke="#f2c878" stroke-width="1"/><text x="225.6" y="40.9" class="lg">Skin</text><text x="0.4" y="242" class="big">a)</text>
<rect x="387.3" y="10.2" width="270.7" height="227.60000000000002" fill="none" stroke="#a6a6a6" stroke-width="0.8"/><line x1="387.3" y1="237.8" x2="387.3" y2="235.3" stroke="#a6a6a6" stroke-width="0.8"/><line x1="387.3" y1="10.2" x2="387.3" y2="12.7" stroke="#a6a6a6" stroke-width="0.8"/><text x="387.3" y="250.5" text-anchor="middle" class="tk">0</text><line x1="428.9" y1="237.8" x2="428.9" y2="235.3" stroke="#a6a6a6" stroke-width="0.8"/><line x1="428.9" y1="10.2" x2="428.9" y2="12.7" stroke="#a6a6a6" stroke-width="0.8"/><text x="428.9" y="250.5" text-anchor="middle" class="tk">10</text><line x1="470.6" y1="237.8" x2="470.6" y2="235.3" stroke="#a6a6a6" stroke-width="0.8"/><line x1="470.6" y1="10.2" x2="470.6" y2="12.7" stroke="#a6a6a6" stroke-width="0.8"/><text x="470.6" y="250.5" text-anchor="middle" class="tk">20</text><line x1="512.2" y1="237.8" x2="512.2" y2="235.3" stroke="#a6a6a6" stroke-width="0.8"/><line x1="512.2" y1="10.2" x2="512.2" y2="12.7" stroke="#a6a6a6" stroke-width="0.8"/><text x="512.2" y="250.5" text-anchor="middle" class="tk">30</text><line x1="553.9" y1="237.8" x2="553.9" y2="235.3" stroke="#a6a6a6" stroke-width="0.8"/><line x1="553.9" y1="10.2" x2="553.9" y2="12.7" stroke="#a6a6a6" stroke-width="0.8"/><text x="553.9" y="250.5" text-anchor="middle" class="tk">40</text><line x1="595.5" y1="237.8" x2="595.5" y2="235.3" stroke="#a6a6a6" stroke-width="0.8"/><line x1="595.5" y1="10.2" x2="595.5" y2="12.7" stroke="#a6a6a6" stroke-width="0.8"/><text x="595.5" y="250.5" text-anchor="middle" class="tk">50</text><line x1="637.2" y1="237.8" x2="637.2" y2="235.3" stroke="#a6a6a6" stroke-width="0.8"/><line x1="637.2" y1="10.2" x2="637.2" y2="12.7" stroke="#a6a6a6" stroke-width="0.8"/><text x="637.2" y="250.5" text-anchor="middle" class="tk">60</text><line x1="387.3" y1="237.8" x2="389.8" y2="237.8" stroke="#a6a6a6" stroke-width="0.8"/><line x1="658.0" y1="237.8" x2="655.5" y2="237.8" stroke="#a6a6a6" stroke-width="0.8"/><text x="384.5" y="241.8" text-anchor="end" class="tk">0</text><line x1="387.3" y1="215.0" x2="389.8" y2="215.0" stroke="#a6a6a6" stroke-width="0.8"/><line x1="658.0" y1="215.0" x2="655.5" y2="215.0" stroke="#a6a6a6" stroke-width="0.8"/><text x="384.5" y="219.0" text-anchor="end" class="tk">10</text><line x1="387.3" y1="192.3" x2="389.8" y2="192.3" stroke="#a6a6a6" stroke-width="0.8"/><line x1="658.0" y1="192.3" x2="655.5" y2="192.3" stroke="#a6a6a6" stroke-width="0.8"/><text x="384.5" y="196.3" text-anchor="end" class="tk">20</text><line x1="387.3" y1="169.5" x2="389.8" y2="169.5" stroke="#a6a6a6" stroke-width="0.8"/><line x1="658.0" y1="169.5" x2="655.5" y2="169.5" stroke="#a6a6a6" stroke-width="0.8"/><text x="384.5" y="173.5" text-anchor="end" class="tk">30</text><line x1="387.3" y1="146.8" x2="389.8" y2="146.8" stroke="#a6a6a6" stroke-width="0.8"/><line x1="658.0" y1="146.8" x2="655.5" y2="146.8" stroke="#a6a6a6" stroke-width="0.8"/><text x="384.5" y="150.8" text-anchor="end" class="tk">40</text><line x1="387.3" y1="124.0" x2="389.8" y2="124.0" stroke="#a6a6a6" stroke-width="0.8"/><line x1="658.0" y1="124.0" x2="655.5" y2="124.0" stroke="#a6a6a6" stroke-width="0.8"/><text x="384.5" y="128.0" text-anchor="end" class="tk">50</text><line x1="387.3" y1="101.2" x2="389.8" y2="101.2" stroke="#a6a6a6" stroke-width="0.8"/><line x1="658.0" y1="101.2" x2="655.5" y2="101.2" stroke="#a6a6a6" stroke-width="0.8"/><text x="384.5" y="105.2" text-anchor="end" class="tk">60</text><line x1="387.3" y1="78.5" x2="389.8" y2="78.5" stroke="#a6a6a6" stroke-width="0.8"/><line x1="658.0" y1="78.5" x2="655.5" y2="78.5" stroke="#a6a6a6" stroke-width="0.8"/><text x="384.5" y="82.5" text-anchor="end" class="tk">70</text><line x1="387.3" y1="55.7" x2="389.8" y2="55.7" stroke="#a6a6a6" stroke-width="0.8"/><line x1="658.0" y1="55.7" x2="655.5" y2="55.7" stroke="#a6a6a6" stroke-width="0.8"/><text x="384.5" y="59.7" text-anchor="end" class="tk">80</text><line x1="387.3" y1="33.0" x2="389.8" y2="33.0" stroke="#a6a6a6" stroke-width="0.8"/><line x1="658.0" y1="33.0" x2="655.5" y2="33.0" stroke="#a6a6a6" stroke-width="0.8"/><text x="384.5" y="37.0" text-anchor="end" class="tk">90</text><line x1="387.3" y1="10.2" x2="389.8" y2="10.2" stroke="#a6a6a6" stroke-width="0.8"/><line x1="658.0" y1="10.2" x2="655.5" y2="10.2" stroke="#a6a6a6" stroke-width="0.8"/><text x="384.5" y="14.2" text-anchor="end" class="tk">100</text><text x="523" y="262" text-anchor="middle" class="tk">Dose (Gy)</text><text transform="translate(365.5,124.5) rotate(-90)" text-anchor="middle" class="tk">Percent volume (%)</text><text x="346.8" y="241.7" class="big">b)</text><path d="M387.50,209.00 C387.92,209.92 388.92,212.92 390.00,214.50 C391.08,216.08 392.33,217.28 394.00,218.50 C395.67,219.72 397.33,220.58 400.00,221.80 C402.67,223.02 406.17,224.57 410.00,225.80 C413.83,227.03 416.33,228.00 423.00,229.20 C429.67,230.40 441.33,231.90 450.00,233.00 C458.67,234.10 460.00,235.10 475.00,235.80 C490.00,236.50 509.50,236.87 540.00,237.20 C570.50,237.53 638.33,237.70 658.00,237.80" fill="none" stroke="#f5b32a" stroke-width="1.2" stroke-dasharray="4,2.5"/><path d="M387.30,10.20 C387.30,40.17 387.22,158.37 387.30,190.00 C387.38,221.63 387.43,197.00 387.80,200.00 C388.17,203.00 388.80,205.67 389.50,208.00 C390.20,210.33 390.75,212.17 392.00,214.00 C393.25,215.83 394.73,217.42 397.00,219.00 C399.27,220.58 401.27,221.90 405.60,223.50 C409.93,225.10 415.60,227.10 423.00,228.60 C430.40,230.10 441.33,231.38 450.00,232.50 C458.67,233.62 460.00,234.55 475.00,235.30 C490.00,236.05 519.17,236.62 540.00,237.00 C560.83,237.38 580.33,237.47 600.00,237.60 C619.67,237.73 648.33,237.77 658.00,237.80" fill="none" stroke="#f5b32a" stroke-width="1.2"/><path d="M387.30,10.20 C387.97,18.50 390.18,46.70 391.30,60.00 C392.42,73.30 392.98,80.00 394.00,90.00 C395.02,100.00 395.40,111.67 397.40,120.00 C399.40,128.33 403.07,133.22 406.00,140.00 C408.93,146.78 411.62,154.12 415.00,160.70 C418.38,167.28 422.53,174.50 426.30,179.50 C430.07,184.50 432.60,187.27 437.60,190.70 C442.60,194.13 450.05,197.28 456.30,200.10 C462.55,202.92 465.70,204.78 475.10,207.60 C484.50,210.42 498.55,212.93 512.70,217.00 C526.85,221.07 545.45,228.63 560.00,232.00 C574.55,235.37 583.67,236.23 600.00,237.20 C616.33,238.17 648.33,237.70 658.00,237.80" fill="none" stroke="#e8582a" stroke-width="1.2" stroke-dasharray="4,2.5"/><path d="M387.30,10.20 C387.58,18.50 387.80,46.70 389.00,60.00 C390.20,73.30 392.72,80.00 394.50,90.00 C396.28,100.00 397.53,111.67 399.70,120.00 C401.87,128.33 404.95,132.92 407.50,140.00 C410.05,147.08 412.50,156.23 415.00,162.50 C417.50,168.77 418.73,171.95 422.50,177.60 C426.27,183.25 431.97,191.40 437.60,196.40 C443.23,201.40 450.05,204.48 456.30,207.60 C462.55,210.72 465.70,212.28 475.10,215.10 C484.50,217.92 498.55,221.35 512.70,224.50 C526.85,227.65 545.45,231.85 560.00,234.00 C574.55,236.15 583.67,236.77 600.00,237.40 C616.33,238.03 648.33,237.73 658.00,237.80" fill="none" stroke="#e8582a" stroke-width="1.2"/><path d="M387.30,11.00 C388.25,19.17 391.05,46.83 393.00,60.00 C394.95,73.17 397.00,80.00 399.00,90.00 C401.00,100.00 403.33,111.67 405.00,120.00 C406.67,128.33 407.83,133.42 409.00,140.00 C410.17,146.58 410.50,151.17 412.00,159.50 C413.50,167.83 415.75,179.92 418.00,190.00 C420.25,200.08 423.67,212.42 425.50,220.00 C427.33,227.58 427.42,232.57 429.00,235.50 C430.58,238.43 432.83,237.22 435.00,237.60 C437.17,237.98 440.83,237.77 442.00,237.80" fill="none" stroke="#6cb33f" stroke-width="1.2" stroke-dasharray="4,2.5"/><path d="M387.30,11.00 C388.42,19.17 391.88,46.83 394.00,60.00 C396.12,73.17 398.03,80.00 400.00,90.00 C401.97,100.00 404.23,111.67 405.80,120.00 C407.37,128.33 408.37,133.42 409.40,140.00 C410.43,146.58 410.70,151.17 412.00,159.50 C413.30,167.83 415.20,179.92 417.20,190.00 C419.20,200.08 422.17,212.42 424.00,220.00 C425.83,227.58 426.37,232.57 428.20,235.50 C430.03,238.43 432.70,237.22 435.00,237.60 C437.30,237.98 440.83,237.77 442.00,237.80" fill="none" stroke="#6cb33f" stroke-width="1.2"/><path d="M387.30,10.20 C387.75,10.27 388.13,9.80 390.00,10.60 C391.87,11.40 395.57,12.55 398.50,15.00 C401.43,17.45 404.58,21.88 407.60,25.30 C410.62,28.72 413.60,31.93 416.60,35.50 C419.60,39.07 422.60,43.70 425.60,46.70 C428.60,49.70 431.37,51.23 434.60,53.50 C437.83,55.77 442.43,58.47 445.00,60.30 C447.57,62.13 444.78,60.47 450.00,64.50 C455.22,68.53 469.30,78.67 476.30,84.50 C483.30,90.33 485.38,92.83 492.00,99.50 C498.62,106.17 509.67,117.83 516.00,124.50 C522.33,131.17 524.17,133.25 530.00,139.50 C535.83,145.75 545.17,155.25 551.00,162.00 C556.83,168.75 560.25,173.22 565.00,180.00 C569.75,186.78 574.65,196.07 579.50,202.70 C584.35,209.33 589.22,215.33 594.10,219.80 C598.98,224.27 604.48,226.80 608.80,229.50 C613.12,232.20 611.80,234.62 620.00,236.00 C628.20,237.38 651.67,237.50 658.00,237.80" fill="none" stroke="#b3173f" stroke-width="1.2" stroke-dasharray="4,2.5"/><path d="M387.30,10.20 C387.75,10.23 388.13,9.77 390.00,10.40 C391.87,11.03 395.57,11.90 398.50,14.00 C401.43,16.10 404.58,20.00 407.60,23.00 C410.62,26.00 413.60,28.62 416.60,32.00 C419.60,35.38 422.60,40.28 425.60,43.30 C428.60,46.32 431.37,47.73 434.60,50.10 C437.83,52.47 442.43,55.72 445.00,57.50 C447.57,59.28 444.78,56.62 450.00,60.80 C455.22,64.98 469.28,76.33 476.30,82.60 C483.32,88.87 485.52,91.50 492.10,98.40 C498.68,105.30 509.40,117.07 515.80,124.00 C522.20,130.93 524.58,133.50 530.50,140.00 C536.42,146.50 543.95,153.37 551.30,163.00 C558.65,172.63 568.27,188.33 574.60,197.80 C580.93,207.27 584.82,214.52 589.30,219.80 C593.78,225.08 597.43,227.07 601.50,229.50 C605.57,231.93 609.78,233.12 613.70,234.40 C617.62,235.68 617.62,236.63 625.00,237.20 C632.38,237.77 652.50,237.70 658.00,237.80" fill="none" stroke="#b3173f" stroke-width="1.2"/><path d="M387.30,10.20 C394.42,10.22 421.22,10.17 430.00,10.30 C438.78,10.43 434.25,9.83 440.00,11.00 C445.75,12.17 456.33,15.18 464.50,17.30 C472.67,19.42 480.85,21.82 489.00,23.70 C497.15,25.58 505.27,26.97 513.40,28.60 C521.53,30.23 530.47,31.70 537.80,33.50 C545.13,35.30 552.10,36.80 557.40,39.40 C562.70,42.00 566.33,45.03 569.60,49.10 C572.87,53.17 574.93,57.82 577.00,63.80 C579.07,69.78 580.42,77.30 582.00,85.00 C583.58,92.70 584.83,100.95 586.50,110.00 C588.17,119.05 590.32,129.55 592.00,139.30 C593.68,149.05 594.93,159.15 596.60,168.50 C598.27,177.85 599.98,187.67 602.00,195.40 C604.02,203.13 606.03,209.22 608.70,214.90 C611.37,220.58 614.45,225.98 618.00,229.50 C621.55,233.02 626.00,234.65 630.00,236.00 C634.00,237.35 637.33,237.30 642.00,237.60 C646.67,237.90 655.33,237.77 658.00,237.80" fill="none" stroke="#000000" stroke-width="1.35" stroke-dasharray="4,2.5"/><path d="M387.30,10.20 C393.25,10.20 414.22,9.83 423.00,10.20 C431.78,10.57 433.08,10.63 440.00,12.40 C446.92,14.17 456.33,18.35 464.50,20.80 C472.67,23.25 480.85,24.98 489.00,27.10 C497.15,29.22 505.27,31.45 513.40,33.50 C521.53,35.55 530.47,37.45 537.80,39.40 C545.13,41.35 552.50,42.77 557.40,45.20 C562.30,47.63 564.35,50.08 567.20,54.00 C570.05,57.92 572.37,62.70 574.50,68.70 C576.63,74.70 578.32,83.12 580.00,90.00 C581.68,96.88 582.87,101.78 584.60,110.00 C586.33,118.22 588.67,129.55 590.40,139.30 C592.13,149.05 593.35,159.15 595.00,168.50 C596.65,177.85 598.30,187.67 600.30,195.40 C602.30,203.13 604.30,209.22 607.00,214.90 C609.70,220.58 612.95,226.00 616.50,229.50 C620.05,233.00 624.38,234.55 628.30,235.90 C632.22,237.25 635.05,237.28 640.00,237.60 C644.95,237.92 655.00,237.77 658.00,237.80" fill="none" stroke="#000000" stroke-width="1.35"/><line x1="455.3" y1="221.3" x2="472.0" y2="198.5" stroke="#000" stroke-width="0.9"/><polygon points="475.8,193.2 474.4,200.2 469.5,196.7" fill="#000"/><line x1="550.5" y1="59" x2="566.5" y2="36.6" stroke="#000" stroke-width="0.9"/><polygon points="570.3,31.3 569.0,38.3 564.1,34.8" fill="#000"/><rect x="586" y="15.3" width="68" height="71" fill="#fff" stroke="#a6a6a6" stroke-width="0.8"/><line x1="588.5" y1="21.9" x2="607.2" y2="21.9" stroke="#555" stroke-width="1.2"/><text x="610" y="24.8" class="lg">Unc. ARC</text><line x1="588.5" y1="31.7" x2="607.2" y2="31.7" stroke="#222" stroke-width="1.2" stroke-dasharray="4,3"/><text x="610" y="34.6" class="lg">DC-PAT</text><line x1="588.5" y1="41.5" x2="607.2" y2="41.5" stroke="#000" stroke-width="1.6"/><text x="610" y="44.4" class="lg">PBSTV</text><line x1="588.5" y1="51.2" x2="607.2" y2="51.2" stroke="#6cb33f" stroke-width="1.4"/><text x="610" y="54.1" class="lg">Brainstem</text><line x1="588.5" y1="61.0" x2="607.2" y2="61.0" stroke="#b3173f" stroke-width="1.4"/><text x="610" y="63.9" class="lg">Ring 10mm</text><line x1="588.5" y1="70.8" x2="607.2" y2="70.8" stroke="#f5b32a" stroke-width="1.4"/><text x="610" y="73.7" class="lg">Skin</text><line x1="588.5" y1="80.6" x2="607.2" y2="80.6" stroke="#e8582a" stroke-width="1.4"/><text x="610" y="83.5" class="lg">Margin</text>
</svg>
</body></html>
